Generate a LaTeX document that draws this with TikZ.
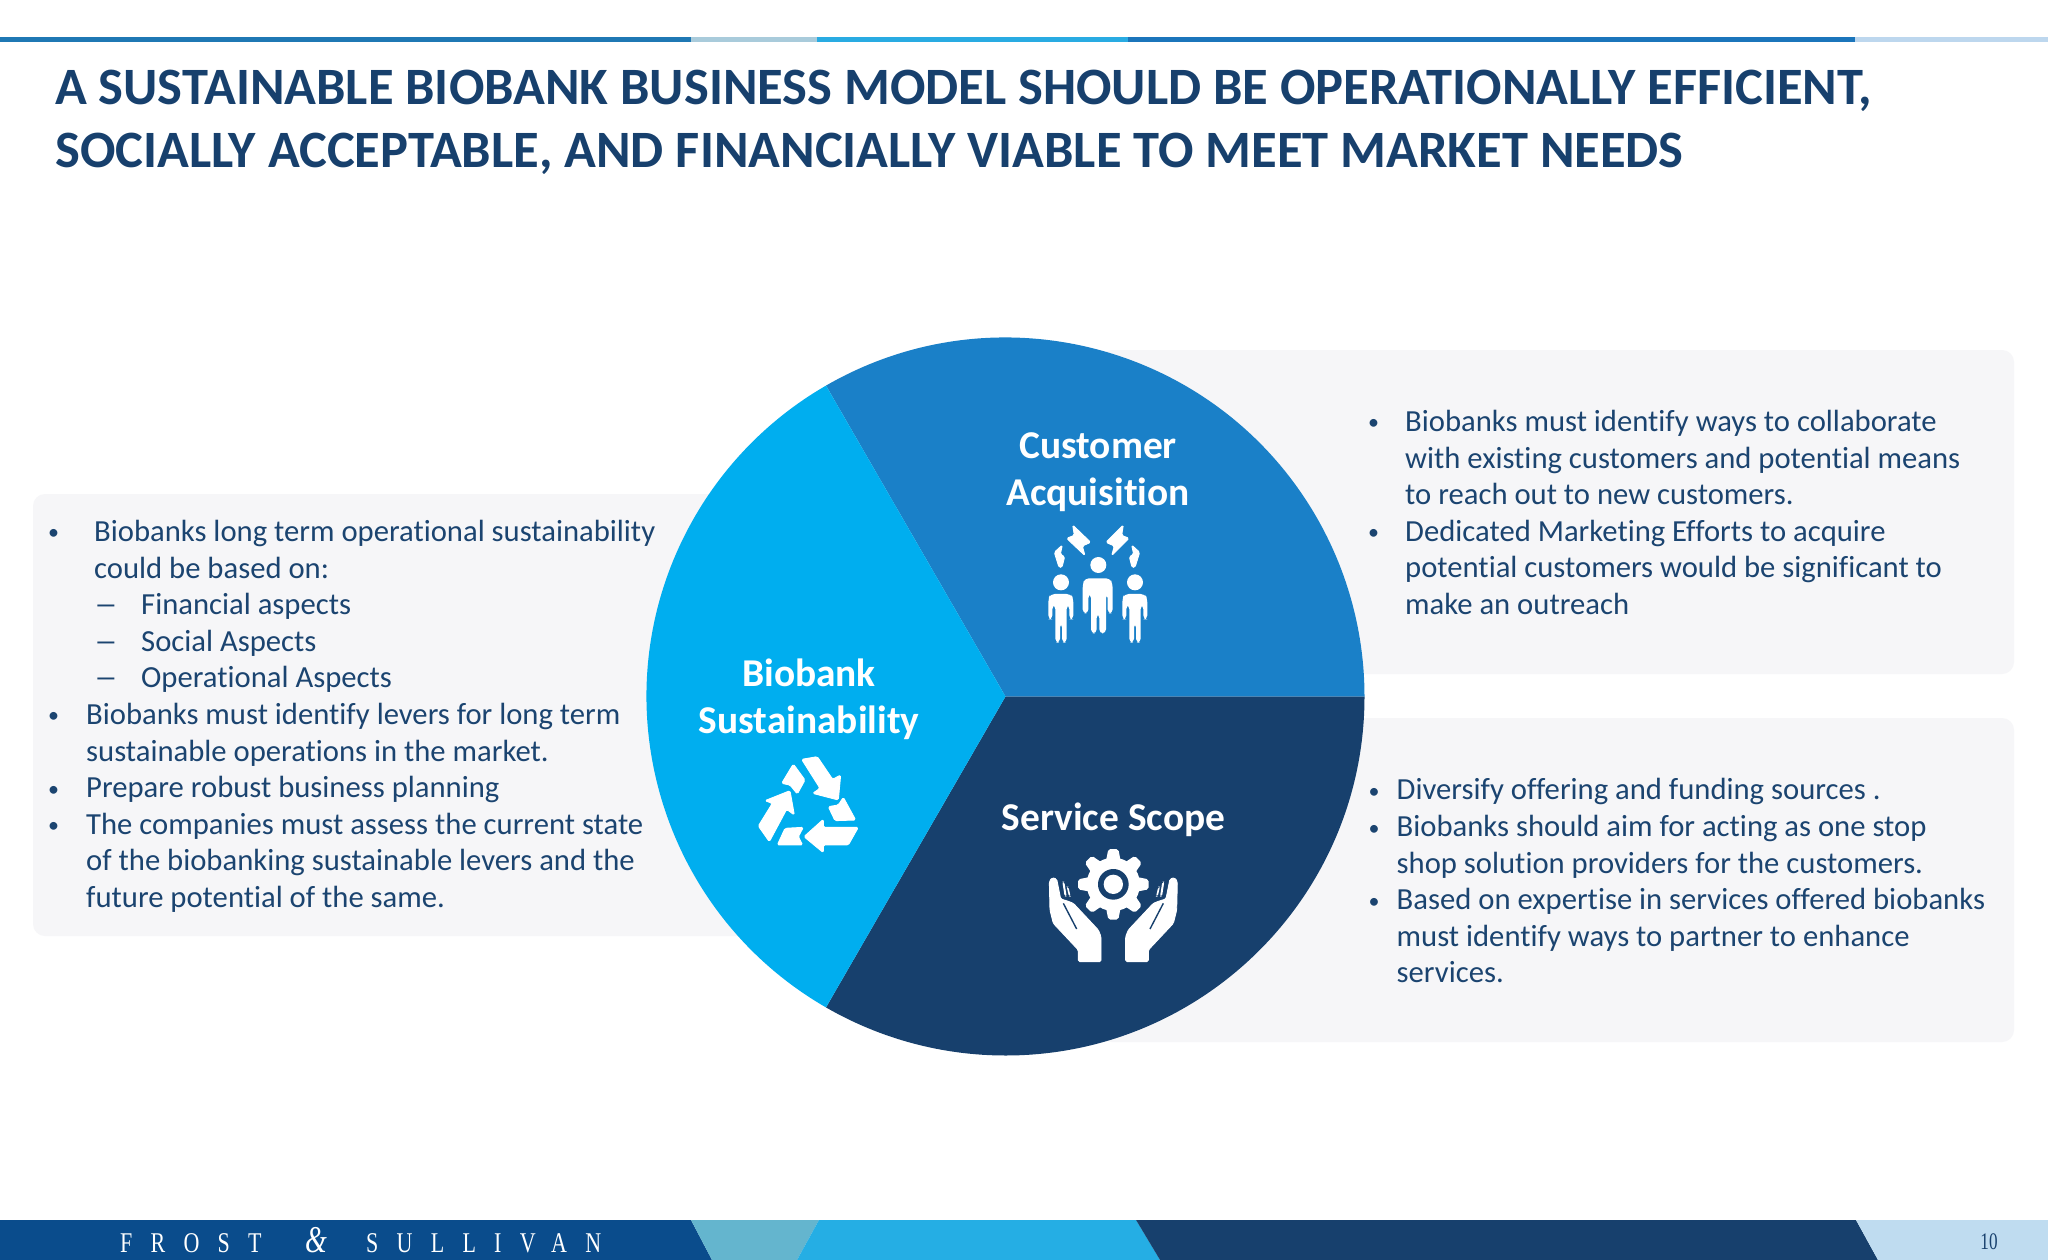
\documentclass[tikz,border=0pt]{standalone}
\usepackage{graphicx}
\usepackage{fontspec}
\usetikzlibrary{calc}
\setmainfont{Carlito}[Ligatures=NoCommon]
\newfontfamily\fsfont{Liberation Serif}
\definecolor{navy}{HTML}{17406D}
\definecolor{midblue}{HTML}{1A80C8}
\definecolor{skyblue}{HTML}{00AEEF}
\definecolor{panelgrey}{HTML}{F6F6F8}
\definecolor{bodyink}{HTML}{1B4470}
\newcommand{\blt}{{\fontsize{22}{22}\selectfont\hspace*{2pt}\raisebox{1.5pt}{•}}}
\newcommand{\dsh}{\scalebox{1.55}[1]{–}}
\newcommand{\itm}[3]{\makebox[#1pt][l]{#2}#3}
\newcommand{\subitm}[3]{\hspace*{#1pt}\makebox[47pt][l]{#2}#3}
\tikzset{
  panel/.style={fill=panelgrey,rounded corners=12pt},
  wedge/.style={draw=none},
  bodytext/.style={anchor=north west,inner sep=0pt,align=left,text=bodyink,font=\fontsize{30.66}{36.6}\selectfont},
  titletext/.style={anchor=base west,inner sep=0pt,text=navy,font=\fontsize{52.5}{60}\selectfont\bfseries},
  seglabel/.style={inner sep=0pt,align=center,text=white,font=\fontsize{39.4}{47}\selectfont\bfseries},
  glyph/.style={fill=white,draw=none,rounded corners=1.5pt},
  fatglyph/.style={fill=white,draw=white,line width=0.9pt,line join=round,rounded corners=1.5pt},
  fstext/.style={inner sep=0pt,anchor=base west,text=white},
}
\begin{document}
\begin{tikzpicture}[x=1pt,y=-1pt]
\useasboundingbox (0,0) rectangle (2048,1260);
\fill[white] (0,0) rectangle (2048,1260);
% top rule
\fill[fill={rgb,255:red,31;green,120;blue,180}] (0,37) rectangle (691,42);
\fill[fill={rgb,255:red,169;green,203;blue,219}] (691,37) rectangle (817,42);
\fill[fill={rgb,255:red,41;green,171;blue,226}] (817,37) rectangle (1128,42);
\fill[fill={rgb,255:red,27;green,117;blue,187}] (1128,37) rectangle (1855,42);
\fill[fill={rgb,255:red,189;green,215;blue,238}] (1855,37) rectangle (2048,42);
% title
\node[titletext] (title1) at (55,104.5) {A SUSTAINABLE BIOBANK BUSINESS MODEL SHOULD BE OPERATIONALLY EFFICIENT,};
\node[titletext] (title2) at (55,168) {SOCIALLY ACCEPTABLE, AND FINANCIALLY VIABLE TO MEET MARKET NEEDS};
% panels
\fill[panel] (33,494) rectangle (900,936);
\fill[panel] (1100,350) rectangle (2014,674);
\fill[panel] (1100,718) rectangle (2014,1042);
% pie
\coordinate (c) at (1005.5,696.5);
\fill[wedge,midblue] (c) -- ++(240:359) arc[start angle=240,end angle=360,radius=359] -- cycle;
\fill[wedge,navy] (c) -- ++(0:359) arc[start angle=0,end angle=120,radius=359] -- cycle;
\fill[wedge,skyblue] (c) -- ++(120:359) arc[start angle=120,end angle=240,radius=359] -- cycle;
% left text
\node[bodytext] (lefttext) at (46,520) {%
\itm{48}{\blt}{Biobanks long term operational sustainability}\\
\itm{48}{}{could be based on:}\\
\subitm{48}{\dsh}{Financial aspects}\\
\subitm{48}{\dsh}{Social Aspects}\\
\subitm{48}{\dsh}{Operational Aspects}\\
\itm{40}{\blt}{Biobanks must identify levers for long term}\\
\itm{40}{}{sustainable operations in the market.}\\
\itm{40}{\blt}{Prepare robust business planning}\\
\itm{40}{\blt}{The companies must assess the current state}\\
\itm{40}{}{of the biobanking sustainable levers and the}\\
\itm{40}{}{future potential of the same.}};
% right top text
\node[bodytext] (toptext) at (1366,410) {%
\itm{39}{\blt}{Biobanks must identify ways to collaborate}\\
\itm{39}{}{with existing customers and potential means}\\
\itm{39}{}{to reach out to new customers.}\\
\itm{39}{\blt}{Dedicated Marketing Efforts to acquire}\\
\itm{39}{}{potential customers would be significant to}\\
\itm{39}{}{make an outreach}};
% right bottom text
\node[bodytext] (bottomtext) at (1366.5,778.5) {%
\itm{30}{\blt}{Diversify offering and funding sources .}\\
\itm{30}{\blt}{Biobanks should aim for acting as one stop}\\
\itm{30}{}{shop solution providers for the customers.}\\
\itm{30}{\blt}{Based on expertise in services offered biobanks}\\
\itm{30}{}{must identify ways to partner to enhance}\\
\itm{30}{}{services.}};
% segment labels
\node[seglabel] (customer) at (1098,472) {Customer\\Acquisition};
\node[seglabel] (sustain) at (809,699) {Biobank\\Sustainability};
\node[seglabel] (service) at (1113.5,819.5) {Service Scope};
% people icon (crop coordinates /3)
\begin{scope}[shift={(1030,510)},x=0.3333pt,y=-0.3333pt]
  \fill[white] (205,165) circle[radius=24];
  \fill[white] (93,217) circle[radius=24];
  \fill[white] (315,217) circle[radius=24];
  \fill[glyph,rounded corners=4pt] (165,205)--(240,205)--(248,222)--(248,310)--(233,310)--(233,252)--(228,252)--(228,370)--(208,370)--(208,312)--(200,312)--(200,370)--(183,370)--(183,252)--(175,252)--(175,310)--(158,310)--(158,222)--cycle;
  \fill[glyph,rounded corners=4pt] (62,252)--(122,252)--(130,265)--(130,328)--(118,328)--(118,285)--(110,285)--(110,398)--(96,398)--(96,340)--(90,340)--(90,398)--(76,398)--(76,285)--(67,285)--(67,328)--(55,328)--(55,265)--cycle;
  \fill[glyph,rounded corners=4pt] (284,252)--(344,252)--(352,265)--(352,328)--(340,328)--(340,285)--(332,285)--(332,398)--(318,398)--(318,340)--(312,340)--(312,398)--(298,398)--(298,285)--(289,285)--(289,328)--(277,328)--(277,265)--cycle;
  \path[fatglyph] (128,45)--(182,97)--(157,108)--(165,137)--(110,85)--(133,76)--cycle;
  \path[fatglyph] (280,45)--(228,97)--(253,108)--(245,137)--(297,85)--(275,76)--cycle;
  \path[fatglyph] (97,105)--(73,127)--(87,172)--(96,172)--(104,140)--(91,133)--cycle;
  \path[fatglyph] (305,105)--(329,127)--(315,172)--(306,172)--(298,140)--(311,133)--cycle;
\end{scope}
% recycle icon
\begin{scope}[shift={(740,740)},x=0.3333pt,y=-0.3333pt]
  \path[fatglyph] (185,58)--(232,50)--(278,118)--(302,105)--(295,180)--(218,160)--(240,145)--cycle;
  \path[fatglyph] (55,258)--(97,190)--(75,182)--(150,152)--(163,225)--(140,208)--(88,305)--cycle;
  \path[fatglyph] (192,290)--(250,238)--(250,262)--(355,262)--(325,315)--(250,315)--(250,338)--cycle;
  \path[fatglyph] (125,130)--(160,72)--(195,120)--(172,162)--(150,135)--cycle;
  \path[fatglyph] (310,172)--(347,240)--(285,242)--(265,200)--(295,195)--cycle;
  \path[fatglyph] (135,265)--(190,262)--(175,290)--(188,315)--(112,315)--cycle;
\end{scope}
% gear and hands icon
\begin{scope}[shift={(1030,835)},x=0.3333pt,y=-0.3333pt]
  \coordinate (g) at (250,148);
  \fill[white] (g) circle[radius=80];
  \foreach \a in {0,45,...,315}{
    \fill[white,rounded corners=2pt] ($(g)+(\a:70)+(\a+90:22)$) -- ($(g)+(\a:106)+(\a+90:15)$) -- ($(g)+(\a:106)+(\a-90:15)$) -- ($(g)+(\a:70)+(\a-90:22)$) -- cycle;
  }
  \fill[navy] (g) circle[radius=46];
  \fill[white] (g) circle[radius=29];
  \path[fatglyph] (58,140)--(66,128)--(80,132)--(92,192)--(112,198)--(130,205)--(205,285)--(213,305)--(213,380)--(145,380)--(145,345)--(70,265)--(60,225)--cycle;
  \path[fatglyph] (442,140)--(434,128)--(420,132)--(408,192)--(388,198)--(370,205)--(295,285)--(287,305)--(287,380)--(355,380)--(355,345)--(430,265)--(440,225)--cycle;
  \draw[navy,line width=1.4pt] (100,205)--(140,282);
  \draw[navy,line width=1.4pt] (400,205)--(360,282);
  \fill[glyph,rounded corners=2pt] (97,140)--(103,140)--(110,185)--(104,185)--cycle;
  \fill[glyph,rounded corners=2pt] (403,140)--(397,140)--(390,185)--(396,185)--cycle;
  \fill[glyph,rounded corners=2pt] (110,155)--(115,155)--(122,185)--(117,185)--cycle;
  \fill[glyph,rounded corners=2pt] (390,155)--(385,155)--(378,185)--(383,185)--cycle;
\end{scope}
% footer
\fill[fill={rgb,255:red,10;green,76;blue,140}] (0,1220) -- (691,1220) -- (712,1260) -- (0,1260) -- cycle;
\fill[fill={rgb,255:red,100;green,181;blue,206}] (691,1220) -- (819,1220) -- (797,1260) -- (712,1260) -- cycle;
\fill[fill={rgb,255:red,37;green,174;blue,228}] (819,1220) -- (1136,1220) -- (1160,1260) -- (797,1260) -- cycle;
\fill[navy] (1136,1220) -- (1856,1220) -- (1878,1260) -- (1160,1260) -- cycle;
\fill[fill={rgb,255:red,191;green,220;blue,240}] (1856,1220) -- (2048,1220) -- (2048,1260) -- (1878,1260) -- cycle;
\node[fstext,font=\fontsize{22}{28}\fsfont\addfontfeature{LetterSpace=83}] (fs1) at (120,1252) {\scalebox{1}[1.3]{FROST}};
\node[fstext,font=\fontsize{28}{34}\fsfont\itshape] (fs2) at (305,1252) {\scalebox{1}[1.35]{\&}};
\node[fstext,font=\fontsize{22}{28}\fsfont\addfontfeature{LetterSpace=83}] (fs3) at (366,1252) {\scalebox{1}[1.3]{SULLIVAN}};
\node[inner sep=0pt,text=navy,font=\fontsize{19}{24}\fsfont] (pageno) at (1989,1242) {\scalebox{0.9}[1.25]{10}};
\end{tikzpicture}
\end{document}
